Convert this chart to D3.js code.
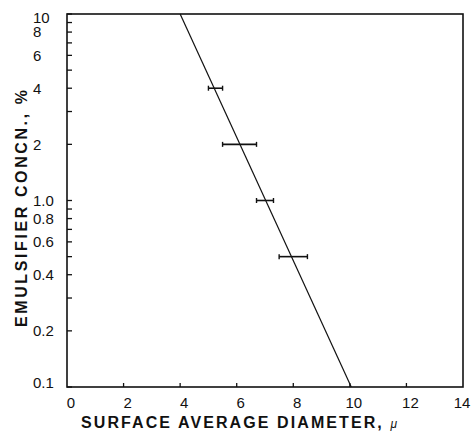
<!DOCTYPE html>
<html>
<head>
<meta charset="utf-8">
<script src="https://cdn.jsdelivr.net/npm/d3@7"></script>
<style>
  body { margin: 0; background: #fff; }
  text { font-family: "Liberation Sans", Arial, sans-serif; fill: #111; }
</style>
</head>
<body>
<div id="chart"></div>
<script>
var width = 473;
var height = 432;

// Measured points: concentration and the spread of diameters
var concentration = [4, 2, 1.0, 0.5];
var diameterLow = [5.0, 5.5, 6.7, 7.5];
var diameterHigh = [5.5, 6.7, 7.3, 8.5];

// Fitted straight line (end points)
var fitDiameter = [4.0, 10.05];
var fitConcentration = [10, 0.1];

// Tick values
var xTicks = [0, 2, 4, 6, 8, 10, 12, 14];
var yMinorTicks = [0.1, 0.2, 0.3, 0.4, 0.5, 0.6, 0.7, 0.8, 0.9, 1, 2, 3, 4, 5, 6, 7, 8, 9, 10];
var yLabelValues = [10, 8, 6, 4, 2, 1, 0.8, 0.6, 0.4, 0.2, 0.1];
var yLabelText = ["10", "8", "6", "4", "2", "1.0", "0.8", "0.6", "0.4", "0.2", "0.1"];

// Plot area edges (named to avoid clashing with window.top)
var plotLeft = 67, plotRight = 463, plotTop = 14, plotBottom = 387;

var x = d3.scaleLinear().domain([0, 14]).range([plotLeft, plotRight]);
var y = d3.scaleLog().domain([0.1, 10]).range([plotBottom, plotTop]);

var svg = d3.select("#chart").append("svg")
    .attr("width", width)
    .attr("height", height);

// Frame
svg.append("rect")
  .attr("x", plotLeft).attr("y", plotTop)
  .attr("width", plotRight - plotLeft).attr("height", plotBottom - plotTop)
  .attr("fill", "none").attr("stroke", "#111").attr("stroke-width", 1.6);

// Left axis ticks (inside)
svg.selectAll("line.ytick").data(yMinorTicks).enter()
  .append("line")
    .attr("class", "ytick")
    .attr("x1", plotLeft).attr("x2", plotLeft + 5)
    .attr("y1", d => y(d)).attr("y2", d => y(d))
    .attr("stroke", "#111").attr("stroke-width", 1.3);

// Left axis labels
svg.selectAll("text.ylabel").data(yLabelValues).enter()
  .append("text")
    .attr("class", "ylabel")
    .attr("x", 33)
    .attr("y", d => Math.min(Math.max(y(d), 18), 383))
    .attr("dy", "0.36em")
    .attr("font-size", 15)
    .text((d, i) => yLabelText[i]);

// Bottom axis ticks (inside)
svg.selectAll("line.xtick").data(xTicks.slice(1, -1)).enter()
  .append("line")
    .attr("class", "xtick")
    .attr("x1", d => x(d)).attr("x2", d => x(d))
    .attr("y1", plotBottom).attr("y2", plotBottom - 4)
    .attr("stroke", "#111").attr("stroke-width", 1.3);

// Bottom axis labels
svg.selectAll("text.xlabel").data(xTicks).enter()
  .append("text")
    .attr("class", "xlabel")
    .attr("x", d => Math.min(x(d) + 4, 462))
    .attr("y", 408)
    .attr("text-anchor", "middle")
    .attr("font-size", 15)
    .text(d => d);

// Fitted line
var line = d3.line()
  .x(d => x(d[0]))
  .y(d => y(d[1]));

svg.append("path")
  .datum(fitDiameter.map((d, i) => [d, fitConcentration[i]]))
  .attr("d", line)
  .attr("fill", "none")
  .attr("stroke", "#111")
  .attr("stroke-width", 1.2);

// Error bars
var bars = svg.selectAll("g.bar").data(concentration).enter()
  .append("g").attr("class", "bar");

bars.append("line")
  .attr("x1", (d, i) => x(diameterLow[i]))
  .attr("x2", (d, i) => x(diameterHigh[i]))
  .attr("y1", d => y(d)).attr("y2", d => y(d))
  .attr("stroke", "#111").attr("stroke-width", 1.6);

bars.append("line")
  .attr("x1", (d, i) => x(diameterLow[i]))
  .attr("x2", (d, i) => x(diameterLow[i]))
  .attr("y1", d => y(d) - 2.5).attr("y2", d => y(d) + 2.5)
  .attr("stroke", "#111").attr("stroke-width", 1.4);

bars.append("line")
  .attr("x1", (d, i) => x(diameterHigh[i]))
  .attr("x2", (d, i) => x(diameterHigh[i]))
  .attr("y1", d => y(d) - 2.5).attr("y2", d => y(d) + 2.5)
  .attr("stroke", "#111").attr("stroke-width", 1.4);

// Axis titles
var xTitle = svg.append("text")
  .attr("x", 81).attr("y", 428)
  .attr("font-size", 16)
  .attr("font-weight", "bold")
  .attr("textLength", 316)
  .attr("lengthAdjust", "spacing");
xTitle.append("tspan").text("SURFACE AVERAGE DIAMETER, ");
xTitle.append("tspan").attr("font-style", "italic").attr("font-weight", "normal").attr("font-size", 12).text("μ");

svg.append("text")
  .attr("transform", "translate(27,327) rotate(-90)")
  .attr("font-size", 16)
  .attr("font-weight", "bold")
  .attr("textLength", 237)
  .attr("lengthAdjust", "spacing")
  .text("EMULSIFIER CONCN., %");
</script>
</body>
</html>
